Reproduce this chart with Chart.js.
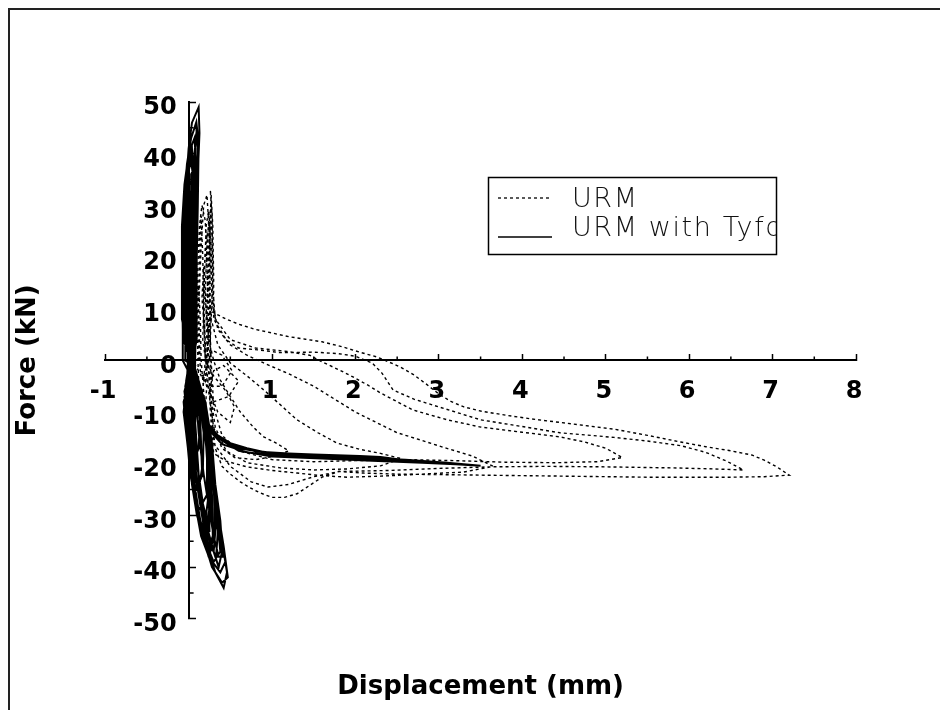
<!DOCTYPE html>
<html><head><meta charset="utf-8">
<style>html,body{margin:0;padding:0;background:#fff;}canvas{display:block;}</style>
<script src="https://cdn.jsdelivr.net/npm/chart.js@4.4.1/dist/chart.umd.min.js"></script>
</head><body>
<canvas id="c" width="940" height="710"></canvas>
<script>
// ---- data (displacement mm, force kN) ----
const seriesLabels = ['URM', 'URM with Tyfo'];
const xMinorTicks = [-0.5, 0.5, 1.5, 2.5, 3.5, 4.5, 5.5, 6.5, 7.5];
const yMinorTicks = [-45, -35, -25, -15, -5, 5, 15, 25, 35, 45];

const urmPoints = [
  [0.12,0],[0.12,12],[0.14,24],[0.15,28],[0.17,20],[0.18,8],[0.2,0],[0.16,-8],[0.12,-4],[0.1,6],[0.11,18],[0.13,26],
  [0.16,30],[0.2,27],[0.22,18],[0.24,6],[0.2,-4],[0.14,-2],[0.12,10],[0.15,22],[0.18,30],[0.22,32],[0.25,24],[0.26,10],
  [0.22,-2],[0.17,4],[0.19,16],[0.21,26],[0.24,29],[0.27,22],[0.28,12],[0.25,0],
  [0.2,0],[0.3,-3],[0.45,-6],[0.55,-9],[0.5,-12],[0.35,-10],[0.25,-6],[0.3,-2],[0.42,-1],[0.6,-4],[0.48,-7],[0.3,-8],
  [0.18,-3],[0.28,2],[0.4,1],[0.52,-2],[0.4,-5],[0.22,-5],
  [0.05,0],[0.1,8],[0.12,14],[0.14,8],[0.15,0],[0.18,-6],[0.2,-10],[0.22,-4],[0.2,4],
  [0.16,12],[0.18,18],[0.2,12],[0.24,4],[0.3,0],[0.38,-3.8],[0.5,-7],[0.62,-10],[0.78,-13],[0.9,-14.8],[1.05,-16],[1.2,-17.5],
  [1.05,-18.5],[0.8,-19.2],[0.55,-18.8],[0.4,-17],[0.3,-13],[0.24,-6],[0.2,2],
  [0.18,14],[0.2,22],[0.22,24],[0.24,16],[0.27,8],[0.35,3],[0.5,-0.5],[0.7,-3],[0.9,-5.7],[1.1,-8.6],[1.3,-11.5],[1.55,-14],
  [1.78,-16],[2.05,-17.2],[2.3,-18],[2.55,-19],[2.3,-20.4],[1.9,-21],[1.5,-21.2],[1.1,-20.8],[0.7,-19.8],[0.45,-17.5],
  [0.32,-13],[0.25,-5],[0.22,3],
  [0.2,14],[0.22,22],[0.24,27],[0.26,20],[0.28,12],[0.35,6],[0.5,3],[0.7,1],[0.9,-0.5],[1.2,-2.6],[1.5,-5],[1.75,-7.5],
  [2.0,-10],[2.25,-12],[2.5,-14],[2.8,-15.5],[3.05,-16.8],[3.4,-18.5],[3.65,-20.5],[3.3,-21.6],[2.8,-22],[2.3,-22.4],
  [1.9,-22.6],[1.6,-22.3],[1.3,-21.8],[1.0,-21.3],[0.7,-20.6],[0.45,-19.5],[0.3,-18],[0.26,-10],[0.24,0],
  [0.22,12],[0.24,22],[0.26,29],[0.28,24],[0.29,14],[0.32,8],[0.5,4],[0.8,2.4],[1.2,1.7],[1.45,1],[1.6,-0.3],[1.8,-1.8],
  [1.97,-3.2],[2.15,-4.8],[2.3,-6.3],[2.5,-8],[2.69,-9.6],[3.1,-11.5],[3.5,-12.9],[4.0,-13.9],[4.45,-14.8],[4.75,-15.8],
  [5.0,-17],[5.2,-18.8],[4.9,-19.6],[4.4,-19.8],[3.8,-19.7],[3.2,-19.4],[2.6,-19.2],[2.0,-19.4],[1.5,-19.6],[1.0,-19.2],
  [0.6,-17.5],[0.4,-14.5],[0.3,-9],[0.27,0],
  [0.24,14],[0.25,25],[0.27,32],[0.29,26],[0.3,16],[0.3,8],[0.45,4],[0.6,2.4],[0.85,2],[1.1,1.5],[1.5,1.6],[1.8,1.3],
  [2.0,0.8],[2.2,-0.5],[2.32,-2.5],[2.45,-5.7],[2.7,-7.5],[3.0,-9],[3.5,-11.5],[4.0,-12.8],[4.45,-14],[5.1,-14.9],
  [5.5,-15.6],[5.9,-16.5],[6.2,-17.8],[6.45,-19.5],[6.65,-21.2],[6.3,-21],[5.8,-20.8],[5.0,-20.6],[4.3,-20.5],[3.6,-20.6],
  [3.0,-20.9],[2.4,-21.3],[1.8,-21.5],[1.5,-22.5],[1.2,-24],[0.95,-24.5],[0.75,-23.5],[0.5,-20.5],[0.3,-16],[0.27,-6],[0.26,4],
  [0.25,16],[0.26,26],[0.27,31],[0.26,33],[0.28,28],[0.29,18],[0.28,9.4],[0.45,8],[0.6,7],[0.8,6],[1.0,5.3],[1.2,4.6],
  [1.4,4.1],[1.6,3.6],[1.85,2.6],[2.05,1.6],[2.25,0.7],[2.4,-0.3],[2.55,-1.4],[2.7,-2.8],[2.85,-4.6],[3.0,-6.5],[3.15,-8],
  [3.3,-9],[3.5,-9.8],[3.8,-10.6],[4.1,-11.3],[4.4,-11.9],[4.75,-12.6],[5.1,-13.3],[5.5,-14.5],[5.9,-15.8],[6.2,-16.7],
  [6.5,-17.5],[6.75,-18.3],[6.9,-19.3],[7.05,-20.6],[7.2,-22.2],[6.9,-22.5],[6.5,-22.6],[6.0,-22.6],[5.5,-22.6],[5.0,-22.5],
  [4.5,-22.4],[4.0,-22.3],[3.5,-22.2],[3.0,-22.1],[2.5,-22.0],[2.1,-21.8],[1.8,-21.5],[1.6,-22.6],[1.45,-24.2],[1.3,-25.8],
  [1.15,-26.5],[1.0,-26.5],[0.85,-25.6],[0.72,-24.5],[0.62,-23.5],[0.5,-22],[0.4,-20.5],[0.32,-17],[0.27,-10],[0.24,0],
  [0.22,10],[0.25,20]
];

const tyfoPoints = [
  [0,0],[-0.03,6],[-0.02,12],[0.02,10],[0.04,4],[0.02,0],[0.0,-5],[0.0,-10],[0.05,-8],[0.06,-3],[0.03,0],
  [-0.05,8],[-0.04,15],[0.0,18],[0.04,14],[0.06,6],[0.04,0],[0.0,-6],[-0.02,-11],[0.01,-15],[0.08,-12],[0.1,-6],[0.06,0],
  [-0.06,8],[-0.06,16],[-0.03,22],[0.01,24],[0.05,19],[0.07,10],[0.06,2],[0.02,-4],[-0.03,-10],[0.0,-16],[0.05,-20],
  [0.12,-17],[0.14,-10],[0.08,-3],
  [0.0,0],[0.0,10],[0.01,20],[0.02,30],[0.04,31],[0.05,20],[0.05,8],[0.04,0],[0.03,-8],[0.05,-15],[0.08,-21],[0.12,-25],
  [0.16,-21],[0.14,-12],[0.1,-5],
  [0.05,-2],[0.06,-12],[0.1,-20],[0.16,-27],[0.22,-31],[0.26,-28],[0.24,-19],[0.18,-10],[0.1,-3],
  [-0.02,4],[-0.07,12],[-0.07,20],[-0.04,26],[0.02,28],[0.06,22],[0.08,12],[0.07,3],[0.03,-4],[-0.04,-9],[-0.02,-15],
  [0.03,-21],[0.09,-25],[0.17,-22],[0.18,-14],[0.12,-6],
  [-0.07,0],[-0.07,10],[-0.06,22],[-0.05,32],[-0.02,36],[0.0,30],[0.01,18],[0.01,6],[-0.02,-4],[-0.06,-10],[0.0,-18],
  [0.06,-26],[0.12,-31],[0.2,-34],[0.26,-30],[0.25,-20],[0.2,-12],[0.1,-4],
  [0.02,-3],[0.04,-14],[0.09,-23],[0.17,-30],[0.27,-36],[0.33,-38],[0.35,-33],[0.3,-25],[0.25,-16],[0.16,-6],
  [0.0,2],[-0.08,10],[-0.08,20],[-0.06,28],[0.0,31],[0.03,32],[0.07,25],[0.09,14],[0.08,4],[0.04,-3],[-0.05,-8],
  [-0.03,-14],[0.02,-21],[0.07,-26],[0.12,-29],[0.22,-26],[0.22,-18],[0.15,-8],
  [0.01,0],[0.0,8],[-0.01,18],[0.01,28],[0.03,33],[0.08,30],[0.085,18],[0.07,6],[0.04,-4],[-0.02,-12],[0.04,-24],
  [0.1,-30],[0.16,-33],[0.25,-33],[0.24,-24],[0.2,-14],[0.12,-6],
  [0.08,-4],[0.12,-14],[0.18,-22],[0.24,-28],[0.3,-34],[0.36,-38],[0.41,-38],[0.38,-31],[0.32,-24],[0.28,-16],[0.2,-8],
  [0.02,0],[-0.08,8],[-0.08,18],[-0.07,28],[-0.03,33],[0.04,35],[0.08,28],[0.09,16],[0.08,5],[0.03,-3],[-0.06,-8],
  [-0.02,-15],[0.02,-22],[0.1,-29],[0.18,-33],[0.27,-30],[0.26,-20],[0.18,-10],[0.06,-2],
  [0.02,0],[0.02,12],[0.03,24],[0.03,36],[0.06,37],[0.07,24],[0.07,10],[0.06,0],[0.06,-8],[0.09,-18],[0.15,-27],
  [0.2,-31],[0.24,-26],[0.22,-16],[0.15,-6],
  [0.0,-5],[0.03,-16],[0.08,-25],[0.14,-31],[0.22,-35],[0.3,-37],[0.33,-31],[0.29,-22],[0.23,-13],[0.12,-4],
  [-0.07,6],[-0.08,16],[-0.07,26],[-0.04,34],[0.02,38],[0.05,39],[0.09,32],[0.1,20],[0.09,8],[0.04,-2],[-0.05,-7],
  [-0.01,-14],[0.03,-22],[0.12,-30],[0.24,-36],[0.32,-33],[0.3,-24],[0.22,-13],[0.1,-4],
  [0.06,0],[0.07,14],[0.08,26],[0.08,34],[0.09,38],[0.1,30],[0.1,16],[0.09,4],[0.0,-4],[-0.04,-10],[0.01,-18],
  [0.07,-27],[0.15,-34],[0.22,-37],[0.29,-34],[0.28,-26],[0.24,-16],[0.16,-8],
  [-0.01,0],[-0.02,12],[-0.02,26],[0.0,38],[0.04,41],[0.06,34],[0.06,20],[0.05,6],[0.02,-4],[0.05,-14],[0.1,-24],
  [0.18,-32],[0.26,-37],[0.3,-34],[0.27,-24],[0.22,-15],[0.12,-5],
  [-0.06,4],[-0.08,14],[-0.08,26],[-0.05,34],[0.0,40],[0.07,43],[0.1,36],[0.1,24],[0.09,10],[0.05,0],[-0.05,-6],
  [0.0,-13],[0.03,-21],[0.1,-29],[0.2,-35],[0.3,-39],[0.38,-37],[0.33,-28],[0.27,-18],[0.16,-8],[0.05,-1],
  [-0.04,0],[-0.04,14],[-0.03,28],[-0.01,36],[0.02,40],[0.05,36],[0.04,22],[0.03,8],[0.01,-4],[0.02,-14],[0.07,-24],
  [0.16,-33],[0.32,-41],[0.42,-44],[0.46,-41],[0.4,-35],[0.32,-26],[0.26,-18],[0.2,-9],
  [0.04,0],[0.04,14],[0.05,28],[0.07,40],[0.1,45],[0.12,42],[0.11,30],[0.09,14],[0.08,2],[0.07,-10],[0.12,-22],
  [0.2,-31],[0.3,-37],[0.36,-40],[0.4,-37],[0.34,-30],[0.3,-22],[0.24,-14],[0.14,-5],
  [-0.06,6],[-0.07,18],[-0.06,30],[-0.02,38],[0.03,43],[0.09,46],[0.11,40],[0.1,28],[0.08,14],[0.05,2],[-0.04,-5],
  [0.01,-13],[0.04,-22],[0.12,-31],[0.24,-38],[0.38,-41],[0.44,-39],[0.36,-31],[0.3,-22],[0.2,-12],[0.08,-3],
  [-0.05,8],[-0.05,22],[-0.03,34],[0.0,41],[0.04,46],[0.12,49],[0.13,44],[0.1,32],[0.09,18],[0.06,5],[-0.03,-4],
  [0.0,-12],[0.05,-22],[0.15,-33],[0.28,-40],[0.4,-43],[0.47,-42],[0.42,-36],[0.34,-28],[0.28,-20],[0.2,-11],
  [0.1,-10],[0.22,-12],[0.35,-14.5],[0.5,-16],[0.7,-17],[0.9,-17.7],[1.2,-18],[1.5,-18.2],[2.05,-18.5],[2.3,-18.7],
  [2.6,-19.3],[2.4,-19.0],[1.8,-18.6],[1.2,-18.3],[0.8,-17.5],[0.5,-16.5],[0.3,-14],[0.18,-11],[0.1,-9],
  [0.2,-12.5],[0.4,-15.5],[0.6,-17],[1.0,-18],[1.6,-18.5],[2.2,-18.8],[2.7,-19.4],[3.04,-19.9],[2.8,-19.6],[2.4,-19.4],
  [1.8,-19],[1.2,-18.6],[0.7,-17.8],[0.4,-16.2],[0.22,-13],[0.12,-10],
  [0.25,-13.5],[0.45,-16],[0.8,-17.6],[1.4,-18.4],[2.0,-18.8],[2.6,-19.2],[3.1,-19.8],[3.5,-20.4],[3.2,-20.1],[2.8,-19.8],
  [2.2,-19.4],[1.6,-19.0],[1.0,-18.6],[0.6,-17.5],[0.3,-14.5],[0.15,-10],[0.05,-5],[0.0,0]
];

// ---- decorations drawn through the scales ----
const decor = {
  id: 'decor',
  beforeDraw(chart) {
    const ctx = chart.ctx;
    ctx.save();
    ctx.fillStyle = '#fff';
    ctx.fillRect(0, 0, chart.width, chart.height);
    ctx.strokeStyle = '#222';
    ctx.lineWidth = 2;
    ctx.beginPath();
    ctx.moveTo(9, 710); ctx.lineTo(9, 9); ctx.lineTo(940, 9);
    ctx.stroke();
    ctx.restore();
  },
  afterDraw(chart) {
    const ctx = chart.ctx;
    const xs = chart.scales.x, ys = chart.scales.y;
    const x0 = xs.getPixelForValue(0), y0 = ys.getPixelForValue(0);
    ctx.save();
    ctx.strokeStyle = '#000';
    ctx.lineWidth = 1.5;
    ctx.beginPath();
    xMinorTicks.forEach(v => { const p = xs.getPixelForValue(v); ctx.moveTo(p, y0); ctx.lineTo(p, y0 - 4); });
    yMinorTicks.forEach(v => { const p = ys.getPixelForValue(v); ctx.moveTo(x0, p); ctx.lineTo(x0 + 5, p); });
    ctx.stroke();

    // legend box
    const bx = 488, by = 177, bw = 288, bh = 77;
    const ds = chart.data.datasets;
    ctx.save();
    ctx.beginPath(); ctx.rect(bx, by, bw, bh); ctx.clip();
    ctx.fillStyle = '#111';
    ctx.font = '200 27px "DejaVu Sans ExtraLight", "DejaVu Sans"';
    try { ctx.letterSpacing = '1.6px'; } catch (e) {}
    ctx.textBaseline = 'alphabetic';
    ctx.fillText(ds[0].label, 572, 207);
    ctx.fillText(ds[1].label, 572, 236);
    ctx.restore();
    ctx.lineWidth = 1.3;
    ctx.strokeStyle = '#000';
    ctx.setLineDash(ds[0].borderDash);
    ctx.beginPath(); ctx.moveTo(498, 198); ctx.lineTo(551, 198); ctx.stroke();
    ctx.setLineDash([]);
    ctx.beginPath(); ctx.moveTo(498, 237); ctx.lineTo(552, 237); ctx.stroke();
    ctx.lineWidth = 1.5;
    ctx.strokeRect(bx + 0.5, by + 0.5, bw, bh);
    ctx.restore();
  }
};

const tickFont = { family: 'DejaVu Sans', weight: 'bold', size: 24 };
const titleFont = { family: 'DejaVu Sans', weight: 'bold', size: 26 };

new Chart(document.getElementById('c'), {
  type: 'scatter',
  data: {
    datasets: [
      { label: seriesLabels[0], data: urmPoints.map(p => ({ x: p[0], y: p[1] })), showLine: true,
        borderColor: '#000', borderWidth: 1.4, borderDash: [3, 3], pointRadius: 0, tension: 0, fill: false },
      { label: seriesLabels[1], data: tyfoPoints.map(p => ({ x: p[0], y: p[1] })), showLine: true,
        borderColor: '#000', borderWidth: 2, pointRadius: 0, tension: 0, fill: false }
    ]
  },
  options: {
    responsive: false, animation: false, devicePixelRatio: 1,
    layout: { padding: { left: 9, right: 84, top: 102, bottom: 2 } },
    plugins: { legend: { display: false }, tooltip: { enabled: false } },
    scales: {
      x: {
        type: 'linear', position: { y: 0 }, min: -1, max: 8,
        ticks: { stepSize: 1, autoSkip: false, maxRotation: 0, color: '#000', font: tickFont,
                 padding: 24, labelOffset: -2, callback: v => (v === 0 ? '' : String(v)) },
        grid: { display: true, drawOnChartArea: false, drawTicks: true, tickLength: -7, tickColor: '#000', tickWidth: 1.5 },
        border: { display: true, color: '#000', width: 2 }
      },
      y: {
        type: 'linear', position: { x: 0 }, min: -50, max: 50,
        ticks: { stepSize: 10, autoSkip: false, color: '#000', font: tickFont, labelOffset: 6,
                 callback: v => String(v) + '\u2002' },
        grid: { display: true, drawOnChartArea: false, drawTicks: true, tickLength: -8, tickColor: '#000', tickWidth: 1.5 },
        border: { display: true, color: '#000', width: 2 }
      },
      x2: {
        type: 'linear', position: 'bottom', display: true,
        ticks: { display: false }, grid: { display: false, drawTicks: false }, border: { display: false },
        title: { display: true, text: 'Displacement (mm)', color: '#000', font: titleFont, padding: { top: 53, bottom: 5 } }
      },
      y2: {
        type: 'linear', position: 'left', display: true,
        ticks: { display: false }, grid: { display: false, drawTicks: false }, border: { display: false },
        title: { display: true, text: 'Force (kN)', color: '#000', font: titleFont, padding: { top: 4, bottom: 61 } }
      }
    }
  },
  plugins: [decor]
});
</script>
</body></html>
